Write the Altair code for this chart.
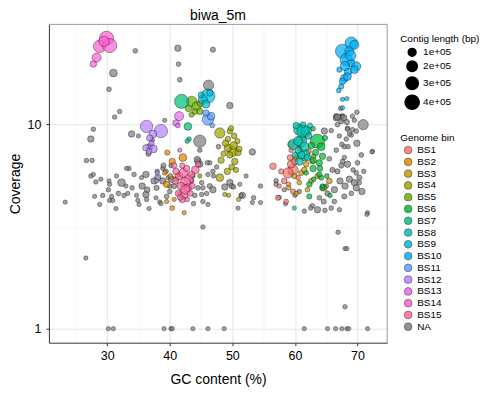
import altair as alt
import pandas as pd

BINS = ["BS1", "BS2", "BS3", "BS4", "BS5", "BS6", "BS7", "BS8", "BS9", "BS10",
        "BS11", "BS12", "BS13", "BS14", "BS15", "NA"]
COLORS = ["#F8766D", "#E58700", "#C99800", "#A3A500", "#6BB100", "#00BA38",
          "#00BF7D", "#00C0AF", "#00BCD8", "#00B0F6", "#619CFF", "#B983FF",
          "#E76BF3", "#FD61D1", "#FF67A4", "#7F7F7F"]

# ---- unbinned contigs (NA) ----
na_high_gc = [34.5, 41.3, 46.9, 31.0, 30.3, 41.4, 41.6, 46.2, 49.6, 32.0, 31.2, 39.2, 27.8, 27.4,
              33.9, 35.0, 36.8, 37.2, 36.6, 44.8, 47.8, 44.8, 44.5, 46.4, 53.2, 45.3, 26.6]
na_high_cov = [23.0, 23.7, 23.3, 17.9, 14.9, 19.8, 16.6, 15.6, 12.4, 11.6, 10.9, 10.5, 9.5, 8.5,
               9.0, 8.8, 7.8, 8.4, 7.2, 8.3, 7.8, 7.5, 6.6, 6.5, 7.35, 3.15, 2.22]
na_high_kb = [20, 60, 30, 100, 20, 20, 20, 200, 60, 15, 15, 10, 15, 60,
              60, 10, 60, 20, 30, 300, 20, 15, 60, 15, 60, 15, 10]

na_left_gc = [23.3, 26.7, 27.6, 27.4, 27.8, 28.2, 28.0, 28.8, 29.3, 30.3, 30.4, 32.3, 30.2, 30.7,
              30.4, 30.9, 31.4, 31.8, 32.7, 33.3, 33.5, 34.3, 34.7, 34.9, 35.1, 35.6, 36.2, 36.2,
              36.3, 36.7, 36.4, 37.5, 37.9, 38.1, 37.8, 38.4, 38.6, 38.9, 39.5, 40.0, 40.0, 39.8,
              38.9, 38.0, 39.4, 40.2, 29.0, 35.5, 33.0, 31.5, 34.0, 33.1]
na_left_cov = [4.17, 6.67, 6.68, 5.6, 5.7, 5.24, 4.45, 4.06, 4.5, 5.3, 5.1, 5.2, 4.8, 4.45,
               4.25, 4.25, 3.88, 4.6, 4.5, 4.6, 6.1, 5.7, 4.5, 4.25, 4.06, 5.0, 5.7, 4.55,
               4.3, 3.88, 4.8, 5.3, 4.9, 5.5, 4.38, 4.18, 4.1, 5.3, 4.45, 5.0, 4.7, 5.5,
               6.1, 5.9, 5.9, 6.3, 5.4, 5.5, 5.0, 5.6, 4.9, 6.1]
na_left_kb = [10, 15, 15, 15, 10, 15, 10, 10, 15, 10, 10, 100, 15, 10,
              10, 10, 10, 20, 15, 10, 15, 15, 10, 10, 10, 60, 60, 60,
              15, 10, 40, 60, 30, 60, 10, 10, 10, 60, 20, 20, 20, 15,
              15, 15, 20, 15, 10, 10, 10, 10, 15, 10]

na_mid_gc = [44.4, 44.8, 46.0, 46.1, 46.9, 47.0, 45.1, 45.3, 46.4, 46.9, 45.1, 45.9, 45.3, 46.1,
             48.8, 49.6, 49.9, 50.2, 51.2, 51.6, 50.9, 54.5, 54.5, 53.2, 53.4, 51.4, 43.5, 44.0,
             43.8, 39.0, 40.3, 40.7, 44.5, 43.7, 47.5, 52.2]
na_mid_cov = [6.74, 6.4, 6.5, 5.7, 5.9, 5.6, 5.2, 4.9, 5.0, 4.8, 4.55, 4.6, 4.2, 4.06,
              4.95, 5.2, 5.0, 4.95, 5.1, 4.5, 3.9, 5.0, 4.15, 4.15, 4.38, 4.5, 5.3, 4.5,
              4.1, 6.3, 5.4, 5.0, 4.9, 5.6, 6.2, 5.6]
na_mid_kb = [60, 60, 15, 15, 15, 10, 15, 15, 30, 60, 15, 15, 15, 10,
             60, 60, 30, 15, 10, 60, 10, 15, 10, 10, 15, 15, 20, 20,
             15, 30, 60, 30, 20, 20, 15, 10]

na_right_gc = [66.6, 67.5, 66.8, 70.9, 68.4, 69.8, 67.1, 69.9, 68.2, 67.9,
               68.5, 66.6, 72.4, 70.6, 67.6, 68.4, 67.4, 66.8, 69.8, 70.3,
               68.7, 69.5, 66.3, 67.9, 69.8, 70.3, 66.3, 63.9, 63.6, 61.5,
               67.1, 71.6, 65.0, 60.7, 58.3, 57.0, 57.0, 57.5, 66.9, 68.0,
               68.3, 68.0, 71.5, 64.7, 65.8, 66.6, 67.6, 67.4, 68.4, 69.2,
               69.0, 69.9, 69.2, 72.3, 67.5, 68.7, 66.8, 67.8, 68.3, 67.3,
               69.5, 65.5, 66.0, 65.2, 67.2, 68.0, 69.0, 70.7, 70.0, 64.6,
               62.8, 60.0, 58.5, 65.8, 64.8, 67.9, 69.3, 71.0, 62.5, 59.3]
na_right_cov = [11.0, 11.0, 10.0, 10.0, 9.6, 9.3, 8.8, 8.1, 8.5, 7.8,
                7.8, 7.5, 7.4, 7.1, 6.6, 6.4, 6.3, 5.9, 5.8, 5.5,
                5.4, 5.2, 4.8, 4.45, 4.9, 5.2, 4.2, 4.38, 3.83, 3.77,
                3.83, 3.7, 5.0, 4.7, 4.8, 5.3, 5.1, 4.4, 2.97, 2.47,
                2.47, 1.28, 3.63, 9.3, 9.35, 10.8, 11.0, 10.4, 9.5, 9.45,
                8.9, 11.5, 11.0, 7.35, 8.0, 9.0, 10.9, 10.8, 10.3, 12.0,
                10.5, 6.8, 6.0, 4.6, 5.3, 5.0, 4.6, 4.7, 6.5, 4.2,
                4.0, 4.5, 4.1, 3.9, 3.8, 6.9, 6.0, 5.9, 3.9, 5.8]
na_right_kb = [30, 20, 20, 200, 20, 20, 15, 60, 20, 20,
               15, 20, 10, 20, 20, 60, 30, 30, 20, 30,
               60, 60, 60, 30, 60, 15, 20, 20, 60, 15,
               15, 10, 20, 20, 15, 20, 15, 10, 15, 10,
               10, 15, 10, 60, 15, 60, 20, 30, 15, 15,
               20, 15, 15, 10, 20, 15, 60, 60, 30, 15,
               15, 20, 30, 30, 60, 60, 20, 60, 20, 30,
               20, 10, 10, 20, 15, 15, 15, 15, 15, 15]

na_one_gc = [30.2, 31.0, 39.1, 40.2, 40.4, 43.7, 46.1, 48.7, 61.5, 65.2, 66.5, 67.5, 68.3, 68.6, 71.6]
na_one_cov = [1.0, 1.0, 1.0, 1.0, 1.0, 1.0, 1.0, 1.0, 1.0, 1.0, 1.0, 1.0, 1.0, 1.0, 1.0]
na_one_kb = [10, 10, 10, 10, 10, 10, 10, 10, 10, 10, 10, 10, 10, 10, 10]

# ---- genome bins ----
bs1_gc = [59.7, 58.9, 59.4, 56.5, 57.8, 57.3, 58.6, 59.4, 59.7, 60.0, 58.3, 59.0, 60.5, 57.5, 59.2]
bs1_cov = [6.0, 5.8, 6.4, 6.25, 5.9, 4.38, 4.2, 7.5, 4.7, 6.6, 5.3, 5.1, 5.5, 5.0, 6.9]
bs1_kb = [200, 200, 100, 60, 30, 30, 20, 20, 30, 60, 40, 20, 20, 15, 40]

bs2_gc = [39.6, 40.4, 42.1, 39.5, 40.4, 42.3, 39.5, 40.1, 41.0, 39.2, 41.6, 40.7, 41.5]
bs2_cov = [7.3, 6.6, 6.9, 5.1, 3.9, 3.7, 4.2, 5.6, 5.4, 5.8, 4.6, 4.3, 5.7]
bs2_kb = [30, 60, 100, 60, 20, 10, 10, 20, 30, 15, 15, 10, 15]

bs3_gc = [59.4, 60.2, 61.8, 61.0, 59.9, 62.6, 63.6, 65.5, 60.7, 61.3,
          62.2, 60.8, 61.5, 62.8, 64.6, 60.2, 59.0, 62.0, 61.2, 63.0]
bs3_cov = [8.0, 6.9, 6.4, 5.8, 5.6, 5.3, 5.6, 5.3, 5.2, 8.6,
           7.4, 7.7, 6.0, 6.6, 4.9, 4.6, 4.9, 4.8, 9.2, 7.0]
bs3_kb = [60, 40, 40, 30, 30, 30, 30, 40, 20, 30,
          30, 20, 40, 30, 60, 20, 20, 20, 20, 20]

bs4_gc = [48.0, 49.6, 50.3, 49.3, 50.1, 49.3, 50.9, 49.6, 48.2, 50.4, 49.9, 49.2,
          50.6, 48.0, 48.8, 49.4, 51.0, 48.9, 50.8, 49.8, 50.2, 51.1, 48.6]
bs4_cov = [9.1, 9.3, 8.8, 8.5, 7.4, 7.7, 7.3, 7.1, 6.7, 6.6, 6.2, 5.9,
           6.0, 5.5, 4.55, 4.5, 4.3, 8.1, 8.3, 9.6, 7.9, 7.6, 7.2]
bs4_kb = [200, 40, 40, 40, 200, 100, 60, 60, 60, 60, 40, 60,
          30, 100, 10, 10, 10, 60, 30, 30, 100, 40, 30]

bs5_gc = [43.5, 44.3, 44.8, 43.5, 44.9, 43.0, 44.0, 44.8]
bs5_cov = [13.0, 12.3, 11.6, 11.2, 12.7, 12.0, 11.6, 5.6]
bs5_kb = [200, 150, 60, 30, 60, 60, 40, 10]

bs6_gc = [63.6, 64.2, 62.9, 63.9, 62.3, 64.4, 62.3, 64.2, 62.9, 64.4, 62.9,
          63.9, 65.1, 64.4, 63.3, 62.6, 64.8, 63.0, 61.8, 65.6, 64.0]
bs6_cov = [8.3, 7.8, 6.7, 6.5, 5.1, 4.9, 4.45, 5.5, 9.55, 7.0, 6.1,
           5.7, 5.6, 5.0, 7.3, 7.9, 8.6, 5.4, 5.8, 4.5, 6.1]
bs6_kb = [400, 100, 60, 60, 40, 40, 30, 30, 20, 60, 60,
          30, 20, 20, 60, 60, 30, 20, 20, 15, 40]

bs7_gc = [41.9, 42.9, 43.1, 42.4, 42.8]
bs7_cov = [13.0, 9.8, 8.5, 5.0, 8.3]
bs7_kb = [400, 100, 15, 15, 15]

bs8_gc = [60.7, 61.8, 59.7, 61.0, 61.5, 60.7, 61.3, 60.5, 61.5, 61.0, 62.2, 60.2,
          62.0, 60.5, 59.9, 61.3, 62.4, 60.0]
bs8_cov = [9.45, 9.3, 8.0, 8.3, 7.1, 6.6, 9.3, 8.3, 7.8, 7.1, 8.8, 9.9,
           6.9, 7.5, 3.9, 10.0, 9.9, 7.1]
bs8_kb = [250, 200, 200, 250, 250, 100, 300, 150, 150, 100, 60, 60,
          60, 60, 10, 40, 30, 40]

bs9_gc = [46.1, 45.3, 45.8, 46.4, 45.0]
bs9_cov = [13.8, 13.3, 12.6, 14.3, 14.0]
bs9_kb = [400, 150, 100, 60, 40]

bs10_gc = [69.0, 67.6, 68.2, 68.7, 69.5, 69.0, 69.8, 68.5, 67.1, 67.9,
           67.6, 68.4, 67.4, 67.0, 67.6, 68.3, 67.6, 68.9, 68.0, 69.5]
bs10_cov = [25.1, 22.9, 20.8, 22.9, 24.6, 20.0, 19.3, 18.2, 18.6, 16.9,
            16.3, 17.2, 15.4, 14.7, 13.3, 13.4, 12.1, 21.8, 19.4, 18.6]
bs10_kb = [300, 400, 300, 150, 150, 100, 150, 100, 30, 100,
           60, 100, 30, 20, 10, 10, 10, 200, 150, 100]

bs11_gc = [46.1, 46.6, 45.8, 46.8]
bs11_cov = [10.6, 11.0, 11.4, 9.9]
bs11_kb = [250, 100, 60, 20]

bs12_gc = [36.3, 38.6, 37.3, 36.8, 37.1, 36.2, 37.4, 36.7, 38.0, 37.9]
bs12_cov = [9.8, 9.3, 9.0, 8.6, 8.1, 7.7, 7.6, 7.4, 5.8, 5.3]
bs12_kb = [300, 350, 100, 60, 30, 60, 100, 40, 10, 10]

bs13_gc = [41.5, 41.0, 41.3, 41.6]
bs13_cov = [11.0, 10.2, 9.9, 7.5]
bs13_kb = [150, 60, 20, 10]

bs14_gc = [29.9, 28.8, 30.4, 28.3, 27.8, 29.5]
bs14_cov = [26.5, 24.2, 24.4, 21.3, 19.8, 25.6]
bs14_kb = [400, 300, 400, 150, 60, 200]

bs15_gc = [41.5, 42.2, 43.0, 42.5, 41.8, 42.9, 41.4, 42.3, 42.0, 43.5, 44.1,
           40.9, 41.0, 42.7, 43.6, 42.5, 41.7, 43.3, 40.7, 42.0, 44.5, 42.8]
bs15_cov = [5.6, 5.8, 5.4, 5.2, 5.0, 4.9, 4.6, 4.5, 4.3, 5.7, 6.0,
            5.3, 5.9, 6.1, 5.0, 4.8, 4.4, 4.6, 6.3, 6.3, 6.4, 4.3]
bs15_kb = [100, 150, 150, 200, 100, 100, 60, 100, 60, 60, 100,
           60, 60, 60, 40, 150, 40, 40, 40, 30, 40, 20]

groups = [
    ("NA", na_high_gc, na_high_cov, na_high_kb),
    ("NA", na_left_gc, na_left_cov, na_left_kb),
    ("NA", na_mid_gc, na_mid_cov, na_mid_kb),
    ("NA", na_right_gc, na_right_cov, na_right_kb),
    ("NA", na_one_gc, na_one_cov, na_one_kb),
    ("BS1", bs1_gc, bs1_cov, bs1_kb),
    ("BS2", bs2_gc, bs2_cov, bs2_kb),
    ("BS3", bs3_gc, bs3_cov, bs3_kb),
    ("BS4", bs4_gc, bs4_cov, bs4_kb),
    ("BS5", bs5_gc, bs5_cov, bs5_kb),
    ("BS6", bs6_gc, bs6_cov, bs6_kb),
    ("BS7", bs7_gc, bs7_cov, bs7_kb),
    ("BS8", bs8_gc, bs8_cov, bs8_kb),
    ("BS9", bs9_gc, bs9_cov, bs9_kb),
    ("BS10", bs10_gc, bs10_cov, bs10_kb),
    ("BS11", bs11_gc, bs11_cov, bs11_kb),
    ("BS12", bs12_gc, bs12_cov, bs12_kb),
    ("BS13", bs13_gc, bs13_cov, bs13_kb),
    ("BS14", bs14_gc, bs14_cov, bs14_kb),
    ("BS15", bs15_gc, bs15_cov, bs15_kb),
]

rows = []
for name, gcs, covs, kbs in groups:
    for g, c, k in zip(gcs, covs, kbs):
        rows.append({"gc": g, "cov": c, "len": k * 1000, "bin": name})
df = pd.DataFrame(rows)

W, H = 339, 319
FONT = "Liberation Sans"

x_axis = alt.Axis(
    values=[25, 30, 35, 40, 45, 50, 55, 60, 65, 70],
    labelExpr="datum.value % 10 == 0 ? datum.label : ''",
    tickSize={"condition": {"test": "datum.value % 10 != 0", "value": 0}, "value": 3},
    gridColor={"condition": {"test": "datum.value % 10 == 0", "value": "#e6e6e6"}, "value": "#f2f2f2"},
    gridWidth={"condition": {"test": "datum.value % 10 == 0", "value": 1}, "value": 0.6},
    labelPadding=4, titlePadding=10,
)
y_axis = alt.Axis(
    values=[1, 3.16227766, 10],
    labelExpr="datum.value == 1 ? '1' : (datum.value == 10 ? '10' : '')",
    tickSize={"condition": {"test": "datum.value > 2 && datum.value < 5", "value": 0}, "value": 3},
    gridColor={"condition": {"test": "datum.value > 2 && datum.value < 5", "value": "#f2f2f2"}, "value": "#e6e6e6"},
    gridWidth={"condition": {"test": "datum.value > 2 && datum.value < 5", "value": 0.6}, "value": 1},
    labelPadding=5, titlePadding=5,
)

points = alt.Chart(df).mark_circle(
    stroke="black", strokeWidth=0.6, strokeOpacity=0.6, fillOpacity=0.72
).encode(
    x=alt.X("gc:Q", title="GC content (%)",
            scale=alt.Scale(domain=[20.7, 74.74], nice=False, zero=False), axis=x_axis),
    y=alt.Y("cov:Q", title="Coverage",
            scale=alt.Scale(type="log", domain=[0.854, 31.0], nice=False), axis=y_axis),
    size=alt.Size("len:Q", scale=alt.Scale(domain=[0, 400000], range=[14, 201]),
                  legend=alt.Legend(title="Contig length (bp)", orient="none",
                                    legendX=352, legendY=10,
                                    values=[100000, 200000, 300000, 400000],
                                    labelExpr="(datum.value / 100000) + 'e+05'",
                                    symbolFillColor="black", symbolStrokeColor="black",
                                    symbolOpacity=1, symbolOffset=4, labelOffset=3,
                                    rowPadding=-2, titlePadding=3)),
    color=alt.Color("bin:N", scale=alt.Scale(domain=BINS, range=COLORS),
                    legend=alt.Legend(title="Genome bin", orient="none",
                                      legendX=352, legendY=109,
                                      symbolSize=60, symbolStrokeColor="#333333",
                                      symbolStrokeWidth=0.6, symbolOpacity=0.85,
                                      symbolOffset=3, labelOffset=4,
                                      rowPadding=-0.2, titlePadding=2)),
)

border = alt.Data(values=[{"k": 0}])
top_rule = alt.Chart(border).mark_rule(color="#9a9a9a", strokeWidth=1).encode(
    x=alt.value(0), x2=alt.value(W), y=alt.value(0))
right_rule = alt.Chart(border).mark_rule(color="#9a9a9a", strokeWidth=1).encode(
    x=alt.value(W), y=alt.value(0), y2=alt.value(H))

chart = alt.layer(points, top_rule, right_rule).properties(
    width=W, height=H, padding=0,
    title=alt.TitleParams("biwa_5m", fontSize=14, fontWeight="normal", font=FONT,
                          anchor="middle", offset=1, color="black"),
).configure_view(stroke=None).configure_axis(
    labelFont=FONT, titleFont=FONT, labelFontSize=12.5, titleFontSize=14,
    titleFontWeight="normal", labelColor="black", titleColor="black",
    domainColor="#333333", tickColor="#333333", domainWidth=1,
).configure_legend(
    labelFont=FONT, titleFont=FONT, labelFontSize=10, titleFontSize=10,
    titleFontWeight="normal", labelColor="black", titleColor="black", padding=0,
)

chart.save("out.html", embed_options={"renderer": "svg", "actions": False})
